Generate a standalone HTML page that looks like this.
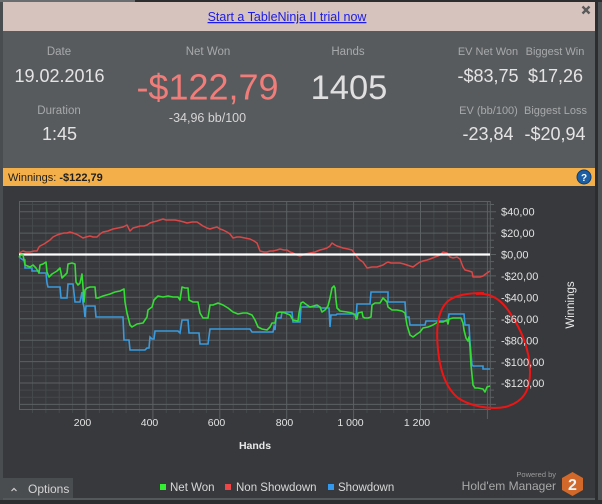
<!DOCTYPE html>
<html><head><meta charset="utf-8"><style>
html,body{margin:0;padding:0;background:#2b2d2f;}
#w{position:relative;width:602px;height:504px;overflow:hidden;}
svg{position:absolute;left:0;top:0;}
text{font-family:"Liberation Sans",Arial,sans-serif;}
</style></head><body><div id="w">
<svg width="602" height="504" viewBox="0 0 602 504" xmlns="http://www.w3.org/2000/svg">
<!-- frame -->
<rect x="0" y="0" width="602" height="504" fill="#2b2d2f"/>
<rect x="0" y="0" width="135" height="2" fill="#6a6d70"/>
<rect x="0" y="2" width="3" height="498" fill="#4a4d50"/>
<rect x="598" y="2" width="4" height="498" fill="#4e5154"/>
<rect x="3" y="2" width="592" height="29" fill="#d7c3bd"/>
<rect x="3" y="31" width="592" height="137" fill="#585b5e"/>
<rect x="3" y="168" width="592" height="18" fill="#f3b04a"/>
<rect x="3" y="186" width="592" height="312" fill="#37393c"/>
<rect x="3" y="498" width="592" height="2" fill="#55585b"/>

<!-- banner -->
<text x="287" y="21" font-size="12.5" fill="#1c1ce6" text-anchor="middle" text-decoration="underline">Start a TableNinja II trial now</text>
<line x1="582.5" y1="6.5" x2="589.5" y2="13.5" stroke="#5a5a5a" stroke-width="2.4"/>
<line x1="589.5" y1="6.5" x2="582.5" y2="13.5" stroke="#5a5a5a" stroke-width="2.4"/>

<!-- stats -->
<g fill="#a7a9ab" font-size="11.5" text-anchor="middle">
<text x="59" y="55">Date</text>
<text x="59" y="114">Duration</text>
<text x="208" y="55">Net Won</text>
<text x="348" y="55">Hands</text>
<text x="488" y="55" font-size="11">EV Net Won</text>
<text x="555" y="55" font-size="11">Biggest Win</text>
<text x="488.5" y="114" font-size="11">EV (bb/100)</text>
<text x="555.5" y="114" font-size="11">Biggest Loss</text>
</g>
<g fill="#e4e4e4" font-size="18" text-anchor="middle">
<text x="59.5" y="82">19.02.2016</text>
<text x="59.5" y="140">1:45</text>
<text x="488" y="82">-$83,75</text>
<text x="555.5" y="82">$17,26</text>
<text x="488" y="140">-23,84</text>
<text x="555" y="140">-$20,94</text>
</g>
<text x="207.5" y="99.5" font-size="36" fill="#f07d7a" text-anchor="middle">-$122,79</text>
<text x="349" y="99" font-size="34.5" fill="#e0e0e0" text-anchor="middle">1405</text>
<text x="207.5" y="122" font-size="12.5" fill="#d5d5d5" text-anchor="middle">-34,96 bb/100</text>

<!-- winnings bar -->
<text x="8" y="181" font-size="11" fill="#1e1e1e">Winnings: <tspan font-weight="bold">-$122,79</tspan></text>
<circle cx="584" cy="177" r="7" fill="#1d5fa5" stroke="#0d3d75" stroke-width="1"/>
<text x="584" y="181" font-size="10" font-weight="bold" fill="#ffffff" text-anchor="middle">?</text>

<!-- grid minor horizontal -->
<g stroke="#46494c" stroke-width="1">
<line x1="19" y1="204.5" x2="490" y2="204.5"/>
<line x1="19" y1="218.8" x2="490" y2="218.8"/>
<line x1="19" y1="226" x2="490" y2="226"/>
<line x1="19" y1="240.2" x2="490" y2="240.2"/>
<line x1="19" y1="247.4" x2="490" y2="247.4"/>
<line x1="19" y1="261.6" x2="490" y2="261.6"/>
<line x1="19" y1="268.8" x2="490" y2="268.8"/>
<line x1="19" y1="283" x2="490" y2="283"/>
<line x1="19" y1="290.2" x2="490" y2="290.2"/>
<line x1="19" y1="304.4" x2="490" y2="304.4"/>
<line x1="19" y1="311.6" x2="490" y2="311.6"/>
<line x1="19" y1="325.8" x2="490" y2="325.8"/>
<line x1="19" y1="333" x2="490" y2="333"/>
<line x1="19" y1="347.3" x2="490" y2="347.3"/>
<line x1="19" y1="354.4" x2="490" y2="354.4"/>
<line x1="19" y1="368.7" x2="490" y2="368.7"/>
<line x1="19" y1="375.8" x2="490" y2="375.8"/>
<line x1="19" y1="390.1" x2="490" y2="390.1"/>
<line x1="19" y1="397.3" x2="490" y2="397.3"/>
</g>
<!-- grid minor vertical -->
<g stroke="#46494c" stroke-width="1">
<line x1="32.5" y1="201" x2="32.5" y2="413"/><line x1="45.9" y1="201" x2="45.9" y2="413"/><line x1="59.2" y1="201" x2="59.2" y2="413"/><line x1="72.6" y1="201" x2="72.6" y2="413"/>
<line x1="99.4" y1="201" x2="99.4" y2="413"/><line x1="112.8" y1="201" x2="112.8" y2="413"/><line x1="126.1" y1="201" x2="126.1" y2="413"/><line x1="139.5" y1="201" x2="139.5" y2="413"/>
<line x1="166.3" y1="201" x2="166.3" y2="413"/><line x1="179.7" y1="201" x2="179.7" y2="413"/><line x1="193" y1="201" x2="193" y2="413"/><line x1="206.4" y1="201" x2="206.4" y2="413"/>
<line x1="233.2" y1="201" x2="233.2" y2="413"/><line x1="246.6" y1="201" x2="246.6" y2="413"/><line x1="259.9" y1="201" x2="259.9" y2="413"/><line x1="273.3" y1="201" x2="273.3" y2="413"/>
<line x1="300.1" y1="201" x2="300.1" y2="413"/><line x1="313.5" y1="201" x2="313.5" y2="413"/><line x1="326.8" y1="201" x2="326.8" y2="413"/><line x1="340.2" y1="201" x2="340.2" y2="413"/>
<line x1="367" y1="201" x2="367" y2="413"/><line x1="380.4" y1="201" x2="380.4" y2="413"/><line x1="393.7" y1="201" x2="393.7" y2="413"/><line x1="407.1" y1="201" x2="407.1" y2="413"/>
<line x1="433.9" y1="201" x2="433.9" y2="413"/><line x1="447.3" y1="201" x2="447.3" y2="413"/><line x1="460.6" y1="201" x2="460.6" y2="413"/><line x1="474" y1="201" x2="474" y2="413"/>
</g>
<!-- grid major -->
<g stroke="#5d6063" stroke-width="1">
<line x1="19" y1="211.7" x2="496" y2="211.7"/>
<line x1="19" y1="233.1" x2="496" y2="233.1"/>
<line x1="19" y1="275.9" x2="496" y2="275.9"/>
<line x1="19" y1="297.3" x2="496" y2="297.3"/>
<line x1="19" y1="318.7" x2="496" y2="318.7"/>
<line x1="19" y1="340.2" x2="496" y2="340.2"/>
<line x1="19" y1="361.6" x2="496" y2="361.6"/>
<line x1="19" y1="383" x2="496" y2="383"/>
<line x1="19" y1="404.4" x2="496" y2="404.4"/>
<line x1="86" y1="201" x2="86" y2="419"/>
<line x1="152.9" y1="201" x2="152.9" y2="419"/>
<line x1="219.8" y1="201" x2="219.8" y2="419"/>
<line x1="286.7" y1="201" x2="286.7" y2="419"/>
<line x1="353.6" y1="201" x2="353.6" y2="419"/>
<line x1="420.5" y1="201" x2="420.5" y2="419"/>
<line x1="487.4" y1="201" x2="487.4" y2="419"/>
</g>
<!-- right minor ticks -->
<g stroke="#5d6063" stroke-width="1">
<line x1="490" y1="204.5" x2="494" y2="204.5"/><line x1="490" y1="218.8" x2="494" y2="218.8"/><line x1="490" y1="226" x2="494" y2="226"/><line x1="490" y1="240.2" x2="494" y2="240.2"/><line x1="490" y1="247.4" x2="494" y2="247.4"/><line x1="490" y1="254.5" x2="496" y2="254.5"/><line x1="490" y1="261.6" x2="494" y2="261.6"/><line x1="490" y1="268.8" x2="494" y2="268.8"/><line x1="490" y1="283" x2="494" y2="283"/><line x1="490" y1="290.2" x2="494" y2="290.2"/><line x1="490" y1="304.4" x2="494" y2="304.4"/><line x1="490" y1="311.6" x2="494" y2="311.6"/><line x1="490" y1="325.8" x2="494" y2="325.8"/><line x1="490" y1="333" x2="494" y2="333"/><line x1="490" y1="347.3" x2="494" y2="347.3"/><line x1="490" y1="354.4" x2="494" y2="354.4"/><line x1="490" y1="368.7" x2="494" y2="368.7"/><line x1="490" y1="375.8" x2="494" y2="375.8"/><line x1="490" y1="390.1" x2="494" y2="390.1"/><line x1="490" y1="397.3" x2="494" y2="397.3"/>
</g>
<rect x="19.5" y="201.5" width="470.8" height="208" fill="none" stroke="#5d6063" stroke-width="1"/>

<!-- series -->
<polyline fill="none" stroke="#d94848" stroke-width="1.5" stroke-linejoin="round" points="19,253 23,251 26,252 30,252 34,251 37,251 39,247 40,246 44,244 47,242 50,240 53,237 57,235 60,234 64,233 67,233 70,232 73,233 76,234 78,235 83,238 86,237 90,236 93,237 97,237 100,234 103,232 108,231 113,229 118,228 123,227 127,225 130,231 133,228 137,227 140,226 144,226 147,225 150,223 153,222 157,221 160,220 163,219 166,220 170,220 175,220 180,221 184,222 187,223 192,222 197,222 200,224 203,226 207,228 210,229 213,228 217,227 220,229 223,230 227,232 230,234 233,238 237,237 240,237 245,238 250,239 254,241 257,243 260,251 264,252 267,252 270,251 273,251 277,250 280,249 284,250 287,250 290,252 293,253 297,255 300,256 305,254 310,253 315,252 320,250 324,249 327,248 330,246 332,243 335,245 337,246 340,247 343,248 348,249 352,250 355,254 358,258 360,260 363,262 365,265 367,268 372,267 377,267 380,266 383,265 386,263 388,262 391,263 393,263 397,263 400,263 404,264 407,265 410,266 413,267 417,264 420,262 423,261 427,260 430,259 435,257 438,256 440,255 443,252 447,253 450,257 453,258 457,257 460,259 463,267 465,270 469,271 472,272 473,277 477,277 480,277 483,276 487,273 490,271"/>
<line x1="19" y1="254.5" x2="490" y2="254.5" stroke="#ffffff" stroke-width="2.2"/>
<polyline fill="none" stroke="#3a9ade" stroke-width="1.6" stroke-linejoin="miter" points="19,257 23,260 25,260 25,268 32,268 32,271 39,271 39,273 46,273 47,283 48,287 60,287 61,298 67,298 68,284 73,284 75,302 80,302 82,292 83,303 84,307 85,317 86,306 95,306 96,317 123,317 124,340 129,340 130,350 145,350 147,348 149,348 150,337 152,339 154,339 155,331 178,331 180,333 182,320 188,320 189,333 199,333 200,344 208,344 210,329 250,329 252,332 273,332 274,327 275,330 276,318 281,318 282,312 292,312 293,322 300,322 301,307 320,307 321,308 329,308 330,327 331,315 336,315 337,314 355,314 356,320 357,304 370,304 371,292 388,292 388,302 405,302 406,317 409,317 410,325 425,325 426,321 448,321 449,314 464,314 465,325 469,325 470,342 472,365 473,366 483,366 483,369 490,369"/>
<polyline fill="none" stroke="#35dd35" stroke-width="1.6" stroke-linejoin="round" points="19,257 21,255 23,255 25,265 30,267 33,265 36,268 39,273 40,265 43,264 46,262 47,272 49,277 52,274 57,271 60,268 62,278 65,275 67,273 68,264 72,263 75,264 76,282 78,285 80,283 82,274 83,287 84,302 85,290 87,288 90,287 95,287 96,298 98,298 103,296 110,294 115,292 120,291 124,289 125,302 127,313 130,325 132,327 137,324 143,323 147,317 148,310 152,307 154,300 158,296 163,297 168,296 173,297 178,297 180,300 182,287 185,288 188,288 189,300 193,302 198,302 200,313 203,318 208,318 210,305 213,305 218,303 223,305 228,308 233,312 238,314 243,313 247,313 252,315 255,320 258,327 262,329 267,330 270,327 272,323 275,323 277,313 280,312 285,313 290,315 293,320 298,321 299,313 301,303 303,302 307,305 310,307 317,305 320,307 322,312 325,310 328,306 330,298 332,288 334,286 335,288 336,300 337,308 340,311 347,312 352,313 355,315 357,319 358,313 362,312 363,317 365,318 368,318 371,317 372,305 375,303 380,303 383,298 387,302 388,307 392,310 397,310 402,311 405,313 407,325 410,335 413,337 417,334 420,332 423,328 428,327 433,325 438,322 443,322 447,320 448,324 449,319 453,318 457,318 461,318 463,323 464,330 466,338 468,341 469,337 470,347 471,365 473,385 475,388 478,388 483,389 485,392 487,387 490,386"/>

<!-- annotation -->
<path d="M 476,294 C 492,292 503,302 510,313 C 521,329 530,350 530,372 C 530,390 524,402 505,407 C 490,410 470,406 458,398 C 446,388 440,370 438,350 C 436,330 437,311 448,301 C 456,295 467,293 484,293" fill="none" stroke="#f01414" stroke-width="2"/>

<!-- y labels -->
<g fill="#e2e2e2" font-size="11">
<text x="501" y="215.5">$40,00</text>
<text x="501" y="237">$20,00</text>
<text x="501" y="258.5">$0,00</text>
<text x="501" y="280">-$20,00</text>
<text x="501" y="301.5">-$40,00</text>
<text x="501" y="323">-$60,00</text>
<text x="501" y="344.5">-$80,00</text>
<text x="501" y="366">-$100,00</text>
<text x="501" y="387">-$120,00</text>
</g>
<text transform="translate(574,305) rotate(-90)" x="0" y="0" font-size="11.5" fill="#e8e8e8" text-anchor="middle">Winnings</text>

<!-- x labels -->
<g fill="#e2e2e2" font-size="10.5" text-anchor="middle">
<text x="82.5" y="426">200</text>
<text x="149.5" y="426">400</text>
<text x="216.5" y="426">600</text>
<text x="284.5" y="426">800</text>
<text x="350.5" y="426">1 000</text>
<text x="417" y="426">1 200</text>
</g>
<text x="255" y="449" font-size="10.5" font-weight="bold" fill="#e8e8e8" text-anchor="middle">Hands</text>

<!-- legend -->
<rect x="160" y="484" width="6" height="6" fill="#33ee33"/>
<text x="170" y="491" font-size="11.5" fill="#d8d8d8">Net Won</text>
<rect x="225" y="484" width="6" height="6" fill="#ee4646"/>
<text x="236" y="491" font-size="11.5" fill="#d8d8d8">Non Showdown</text>
<rect x="328" y="484" width="6" height="6" fill="#3399ee"/>
<text x="338" y="491" font-size="11.5" fill="#d8d8d8">Showdown</text>

<!-- options -->
<rect x="3" y="478" width="70" height="20" fill="#4a4d50"/>
<polyline points="11.5,491 14,488.5 16.5,491" fill="none" stroke="#cfcfcf" stroke-width="1.2"/>
<text x="28" y="493" font-size="12" fill="#d4d4d4">Options</text>

<!-- powered by -->
<text x="556" y="477" font-size="7.5" fill="#9a9a9a" text-anchor="end">Powered by</text>
<text x="556" y="490" font-size="12" fill="#a8a8a8" text-anchor="end">Hold'em Manager</text>
<polygon points="572.5,472 583,478 583,490 572.5,496 562,490 562,478" fill="#d2692b"/>
<text x="572.5" y="490" font-size="16" font-weight="bold" fill="#f4f4f4" text-anchor="middle">2</text>
</svg>
</div></body></html>
